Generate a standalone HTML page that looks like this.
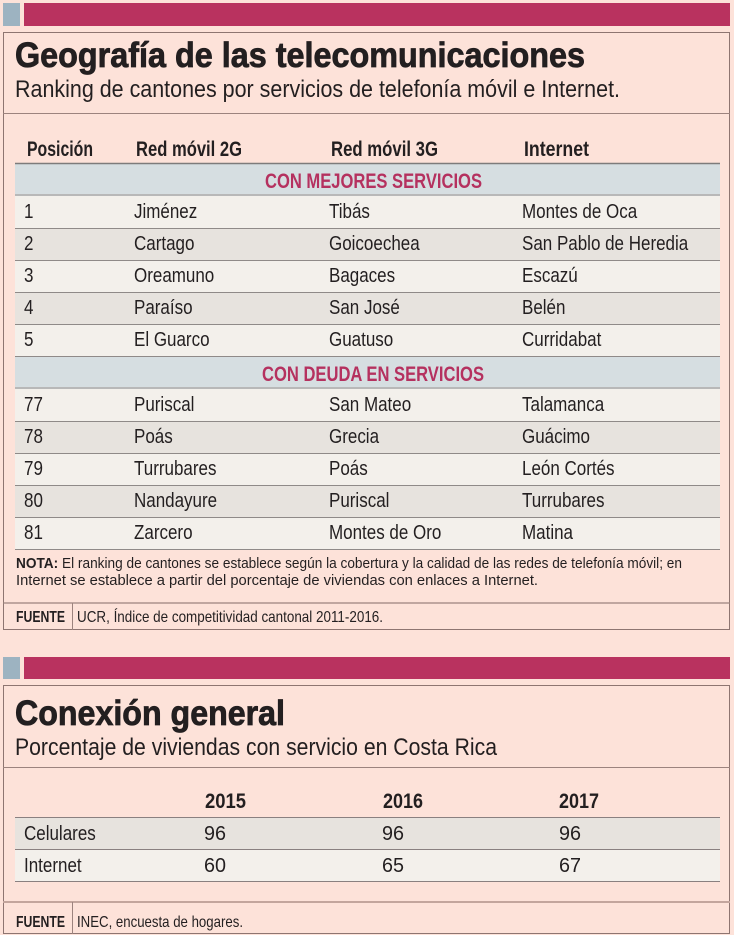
<!DOCTYPE html>
<html>
<head>
<meta charset="utf-8">
<style>
html,body{margin:0;padding:0;background:#fde2d9;width:734px;height:935px;overflow:hidden;}
svg{display:block;}
text{font-family:"Liberation Sans",sans-serif;fill:#231f20;}
.b{font-weight:bold;}
.pk{fill:#b5315f;font-weight:bold;}
</style>
</head>
<body>
<svg width="734" height="935" viewBox="0 0 734 935" xmlns="http://www.w3.org/2000/svg">
<rect width="734" height="935" fill="#fde2d9"/>

<!-- ===== Section 1 bars ===== -->
<rect x="3" y="3" width="17" height="23" fill="#9db3c1"/>
<rect x="24" y="3" width="706" height="23" fill="#b9325f"/>

<!-- Box 1 -->
<rect x="3.5" y="32.5" width="726" height="597" fill="none" stroke="#8e7571" stroke-width="1"/>

<text x="15" y="67" font-size="35" class="b" textLength="570" lengthAdjust="spacingAndGlyphs" stroke="#231f20" stroke-width="0.8">Geografía de las telecomunicaciones</text>
<text x="15" y="97" font-size="24" textLength="605" lengthAdjust="spacingAndGlyphs">Ranking de cantones por servicios de telefonía móvil e Internet.</text>
<line x1="3" y1="113.5" x2="730" y2="113.5" stroke="#9c837e" stroke-width="1"/>

<!-- Header -->
<text x="27" y="156" font-size="21" class="b" textLength="66" lengthAdjust="spacingAndGlyphs">Posición</text>
<text x="136" y="156" font-size="21" class="b" textLength="106" lengthAdjust="spacingAndGlyphs">Red móvil 2G</text>
<text x="331" y="156" font-size="21" class="b" textLength="107" lengthAdjust="spacingAndGlyphs">Red móvil 3G</text>
<text x="524" y="156" font-size="21" class="b" textLength="65" lengthAdjust="spacingAndGlyphs">Internet</text>

<!-- Band 1 -->
<rect x="15" y="163" width="705" height="33" fill="#d6dee1"/>
<line x1="15" y1="163.5" x2="720" y2="163.5" stroke="#7d7b7b" stroke-width="1.5"/>
<line x1="15" y1="195" x2="720" y2="195" stroke="#b8b8b8" stroke-width="2"/>
<text x="265" y="188" font-size="21" class="pk" textLength="217" lengthAdjust="spacingAndGlyphs">CON MEJORES SERVICIOS</text>

<!-- Rows 1-5 -->
<rect x="15" y="196" width="705" height="32" fill="#f3f0eb"/>
<rect x="15" y="228" width="705" height="32" fill="#e7e3de"/>
<rect x="15" y="260" width="705" height="32" fill="#f3f0eb"/>
<rect x="15" y="292" width="705" height="32" fill="#e7e3de"/>
<rect x="15" y="324" width="705" height="32" fill="#f3f0eb"/>
<g stroke="#8f8a88" stroke-width="1">
<line x1="15" y1="228.5" x2="720" y2="228.5"/>
<line x1="15" y1="260.5" x2="720" y2="260.5"/>
<line x1="15" y1="292.5" x2="720" y2="292.5"/>
<line x1="15" y1="324.5" x2="720" y2="324.5"/>
<line x1="15" y1="356.5" x2="720" y2="356.5"/>
</g>

<!-- Band 2 -->
<rect x="15" y="357" width="705" height="32" fill="#d6dee1"/>
<line x1="15" y1="388" x2="720" y2="388" stroke="#b8b8b8" stroke-width="2"/>
<text x="262" y="381" font-size="21" class="pk" textLength="222" lengthAdjust="spacingAndGlyphs">CON DEUDA EN SERVICIOS</text>

<!-- Rows 77-81 -->
<rect x="15" y="389" width="705" height="32" fill="#f3f0eb"/>
<rect x="15" y="421" width="705" height="32" fill="#e7e3de"/>
<rect x="15" y="453" width="705" height="32" fill="#f3f0eb"/>
<rect x="15" y="485" width="705" height="32" fill="#e7e3de"/>
<rect x="15" y="517" width="705" height="32" fill="#f3f0eb"/>
<g stroke="#8f8a88" stroke-width="1">
<line x1="15" y1="421.5" x2="720" y2="421.5"/>
<line x1="15" y1="453.5" x2="720" y2="453.5"/>
<line x1="15" y1="485.5" x2="720" y2="485.5"/>
<line x1="15" y1="517.5" x2="720" y2="517.5"/>
<line x1="15" y1="549.5" x2="720" y2="549.5"/>
</g>

<!-- Body text -->
<g font-size="20" transform="scale(0.85 1)">
<text x="28.24" y="218">1</text><text x="157.65" y="218">Jiménez</text><text x="387.06" y="218">Tibás</text><text x="614.12" y="218">Montes de Oca</text>
<text x="28.24" y="250">2</text><text x="157.65" y="250">Cartago</text><text x="387.06" y="250">Goicoechea</text><text x="614.12" y="250">San Pablo de Heredia</text>
<text x="28.24" y="282">3</text><text x="157.65" y="282">Oreamuno</text><text x="387.06" y="282">Bagaces</text><text x="614.12" y="282">Escazú</text>
<text x="28.24" y="314">4</text><text x="157.65" y="314">Paraíso</text><text x="387.06" y="314">San José</text><text x="614.12" y="314">Belén</text>
<text x="28.24" y="346">5</text><text x="157.65" y="346">El Guarco</text><text x="387.06" y="346">Guatuso</text><text x="614.12" y="346">Curridabat</text>

<text x="28.24" y="411">77</text><text x="157.65" y="411">Puriscal</text><text x="387.06" y="411">San Mateo</text><text x="614.12" y="411">Talamanca</text>
<text x="28.24" y="443">78</text><text x="157.65" y="443">Poás</text><text x="387.06" y="443">Grecia</text><text x="614.12" y="443">Guácimo</text>
<text x="28.24" y="475">79</text><text x="157.65" y="475">Turrubares</text><text x="387.06" y="475">Poás</text><text x="614.12" y="475">León Cortés</text>
<text x="28.24" y="507">80</text><text x="157.65" y="507">Nandayure</text><text x="387.06" y="507">Puriscal</text><text x="614.12" y="507">Turrubares</text>
<text x="28.24" y="539">81</text><text x="157.65" y="539">Zarcero</text><text x="387.06" y="539">Montes de Oro</text><text x="614.12" y="539">Matina</text>
</g>

<!-- Note -->
<text x="16" y="568" font-size="15" textLength="666" lengthAdjust="spacingAndGlyphs"><tspan class="b">NOTA:</tspan>  El ranking de cantones se establece según la cobertura y la calidad de las redes de telefonía móvil; en</text>
<text x="16" y="585" font-size="15" textLength="522" lengthAdjust="spacingAndGlyphs">Internet se establece a partir del porcentaje de viviendas con enlaces a Internet.</text>

<line x1="3" y1="603" x2="730" y2="603" stroke="#9c837e" stroke-width="1.2"/>
<line x1="72.5" y1="603" x2="72.5" y2="630" stroke="#9c837e" stroke-width="1"/>
<text x="16" y="622" font-size="16" class="b" textLength="49" lengthAdjust="spacingAndGlyphs">FUENTE</text>
<text x="77" y="622" font-size="16" textLength="306" lengthAdjust="spacingAndGlyphs">UCR, Índice de competitividad cantonal 2011-2016.</text>

<!-- ===== Section 2 bars ===== -->
<rect x="3" y="657" width="17" height="22" fill="#9db3c1"/>
<rect x="24" y="657" width="706" height="22" fill="#b9325f"/>

<!-- Box 2 -->
<rect x="3.5" y="685.5" width="726" height="248" fill="none" stroke="#8e7571" stroke-width="1"/>

<text x="15" y="725" font-size="35" class="b" textLength="270" lengthAdjust="spacingAndGlyphs" stroke="#231f20" stroke-width="0.8">Conexión general</text>
<text x="15" y="755" font-size="24" textLength="482" lengthAdjust="spacingAndGlyphs">Porcentaje de viviendas con servicio en Costa Rica</text>
<line x1="3" y1="767.5" x2="730" y2="767.5" stroke="#9c837e" stroke-width="1"/>

<text x="205" y="808" font-size="21" class="b" textLength="41" lengthAdjust="spacingAndGlyphs">2015</text>
<text x="383" y="808" font-size="21" class="b" textLength="40" lengthAdjust="spacingAndGlyphs">2016</text>
<text x="559" y="808" font-size="21" class="b" textLength="40" lengthAdjust="spacingAndGlyphs">2017</text>

<rect x="15" y="818" width="705" height="31" fill="#e7e3de"/>
<rect x="15" y="850" width="705" height="31" fill="#f3f0eb"/>
<g stroke="#8a8080" stroke-width="1">
<line x1="15" y1="817.5" x2="720" y2="817.5"/>
<line x1="15" y1="849.5" x2="720" y2="849.5"/>
<line x1="15" y1="881.5" x2="720" y2="881.5"/>
</g>

<g font-size="20" transform="scale(0.85 1)">
<text x="28.24" y="840">Celulares</text>
<text x="28.24" y="872">Internet</text>
</g>
<g font-size="20">
<text x="204" y="840" textLength="22" lengthAdjust="spacingAndGlyphs">96</text>
<text x="382" y="840" textLength="22" lengthAdjust="spacingAndGlyphs">96</text>
<text x="559" y="840" textLength="22" lengthAdjust="spacingAndGlyphs">96</text>
<text x="204" y="872" textLength="22" lengthAdjust="spacingAndGlyphs">60</text>
<text x="382" y="872" textLength="22" lengthAdjust="spacingAndGlyphs">65</text>
<text x="559" y="872" textLength="22" lengthAdjust="spacingAndGlyphs">67</text>
</g>

<line x1="3" y1="902" x2="730" y2="902" stroke="#c3a59d" stroke-width="2"/>
<line x1="72.5" y1="902" x2="72.5" y2="934" stroke="#9c837e" stroke-width="1"/>
<text x="16" y="927" font-size="16" class="b" textLength="49" lengthAdjust="spacingAndGlyphs">FUENTE</text>
<text x="77" y="927" font-size="16" textLength="166" lengthAdjust="spacingAndGlyphs">INEC, encuesta de hogares.</text>
</svg>
</body>
</html>
